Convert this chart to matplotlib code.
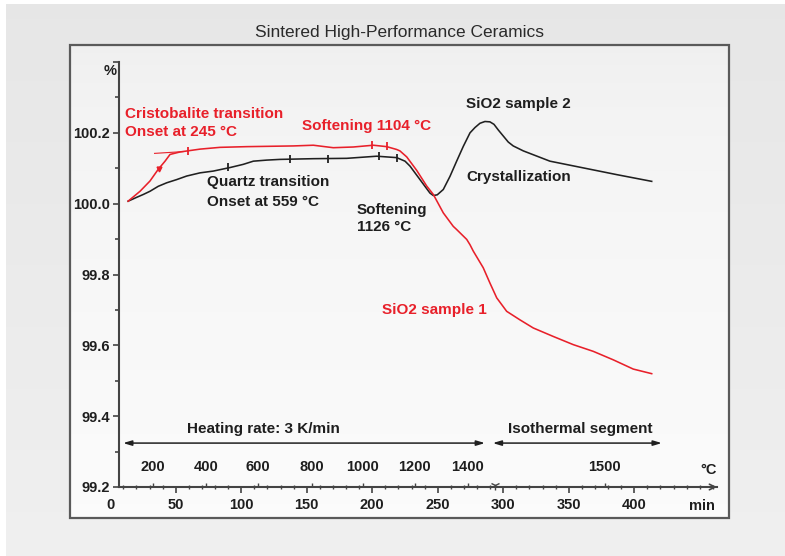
import numpy as np
import matplotlib
matplotlib.use("Agg")
import matplotlib.pyplot as plt
from matplotlib.patches import Rectangle
from matplotlib.ticker import MultipleLocator

plt.rcParams['font.family'] = ['Liberation Sans', 'DejaVu Sans']

# ---------------- data ----------------
# SiO2 sample 1 (red): time [min], mass [%]
s1_time = [13.6, 22.7, 30.3, 36.6, 41.8, 45.6, 53.2, 68.5, 83.7, 104.1, 139.7,
           155.0, 170.2, 185.5, 200.8, 211.0, 218.6, 221.1, 226.3, 233.9, 241.5,
           246.6, 254.2, 261.8, 264.4, 272.1, 274.6, 277.1, 284.7, 289.8, 295.0,
           302.6, 312.7, 322.9, 338.2, 353.4, 368.7, 384.0, 399.2, 413.3]
s1_mass = [100.007, 100.035, 100.064, 100.097, 100.120, 100.139, 100.146, 100.154,
           100.159, 100.161, 100.163, 100.165, 100.158, 100.160, 100.165, 100.161,
           100.153, 100.149, 100.132, 100.094, 100.050, 100.026, 99.974, 99.936,
           99.927, 99.899, 99.884, 99.866, 99.819, 99.776, 99.734, 99.696, 99.672,
           99.649, 99.625, 99.602, 99.583, 99.559, 99.533, 99.520]

# SiO2 sample 2 (black)
s2_time = [13.6, 20.2, 25.2, 30.3, 36.6, 43.1, 50.7, 58.3, 68.5, 78.6, 91.4,
           101.5, 109.2, 119.4, 129.5, 155.0, 180.5, 203.4, 218.6, 225.0, 228.8,
           232.6, 236.4, 240.2, 244.0, 246.6, 249.6, 254.2, 259.3, 264.4, 269.5,
           274.6, 278.4, 282.2, 286.0, 289.8, 292.9, 296.2, 300.0, 303.8, 307.6,
           315.3, 335.6, 361.1, 386.6, 413.3]
s2_mass = [100.007, 100.018, 100.026, 100.035, 100.049, 100.059, 100.068, 100.078,
           100.087, 100.092, 100.102, 100.111, 100.120, 100.123, 100.125, 100.127,
           100.128, 100.134, 100.130, 100.120, 100.106, 100.087, 100.068, 100.049,
           100.030, 100.023, 100.025, 100.040, 100.077, 100.120, 100.162, 100.200,
           100.215, 100.227, 100.232, 100.231, 100.224, 100.208, 100.191, 100.174,
           100.163, 100.149, 100.120, 100.101, 100.082, 100.063]

# evaluation flags on the curves
s1_flag_time = [59.0, 200.0, 211.0]
s1_flag_mass = [100.150, 100.166, 100.163]
s2_flag_time = [90.0, 137.0, 166.0, 205.0, 219.0]
s2_flag_mass = [100.103, 100.127, 100.127, 100.134, 100.130]

# axis ticks
y_ticks = [99.2, 99.4, 99.6, 99.8, 100.0, 100.2, 100.4]
y_labels = ['99.2', '99.4', '99.6', '99.8', '100.0', '100.2', '']
min_ticks = [0, 50, 100, 150, 200, 250, 300, 350, 400]
min_labels = ['0', '50', '100', '150', '200', '250', '300', '350', '400']
temp_tick_time = [32.7, 73.0, 112.7, 153.7, 192.9, 232.5, 273.0, 377.6]
temp_labels = ['200', '400', '600', '800', '1000', '1200', '1400', '1500']

RED = '#e8202a'
BLK = '#202020'
TXT = '#1e1e1e'

W, H = 785, 556
fig = plt.figure(figsize=(W / 100, H / 100), dpi=100)
fig.patch.set_facecolor('white')

# ---------------- background (slide look) ----------------
bg = fig.add_axes([0, 0, 1, 1], zorder=-10)
bg.axis('off')
g = np.linspace(0, 1, 256)[:, None]
outer = np.dstack([0.905 + 0.035 * g] * 3)
bg.imshow(outer, extent=(6, W, H, 4), aspect='auto', interpolation='bilinear')
inner = np.dstack([0.935 + 0.050 * np.sqrt(g)] * 3)
bg.imshow(inner, extent=(70, 729, 518, 45), aspect='auto', interpolation='bilinear')
bg.add_patch(Rectangle((70, 45), 659, 473, fill=False, edgecolor='#5a5a5a', lw=1.6))
bg.set_xlim(0, W)
bg.set_ylim(H, 0)

fig.text(399.5 / W, 1 - 32 / H, 'Sintered High-Performance Ceramics', ha='center',
         va='center', fontsize=12.5, color='#2a2a2a')

# ---------------- main axes ----------------
x0_px, x1_px = 110.3, 716.8
y0_px, y1_px = 487, 62
ax = fig.add_axes([x0_px / W, 1 - y0_px / H, (x1_px - x0_px) / W, (y0_px - y1_px) / H])
ax.patch.set_alpha(0)
ax.set_xlim(0, 463)
ax.set_ylim(99.2, 100.4)

for s in ['top', 'right']:
    ax.spines[s].set_visible(False)
for s in ['left', 'bottom']:
    ax.spines[s].set_color('#444444')
    ax.spines[s].set_linewidth(1.5)
ax.spines['left'].set_position(('data', 6.6))
ax.spines['bottom'].set_bounds(6.6, 463)

ax.set_yticks(y_ticks, y_labels)
ax.yaxis.set_minor_locator(MultipleLocator(0.1))
ax.set_xticks(min_ticks, min_labels)
ax.xaxis.set_minor_locator(MultipleLocator(10))
ax.tick_params(axis='both', which='major', colors='#444444', labelcolor=TXT,
               labelsize=10.5, width=1.2)
ax.tick_params(axis='y', which='major', length=4.5, pad=2)
ax.tick_params(axis='y', which='minor', length=3, width=1.2, colors='#444444')
ax.tick_params(axis='x', which='major', direction='out', length=4, pad=4)
ax.tick_params(axis='x', which='minor', direction='inout', length=3.5, width=1.0,
               colors='#444444')
for lab in ax.get_xticklabels() + ax.get_yticklabels():
    lab.set_fontweight('bold')
ax.xaxis.get_major_ticks()[0].tick1line.set_visible(False)

# temperature scale on the same axis line
sec = ax.secondary_xaxis(0.0)
sec.spines['bottom'].set_visible(False)
sec.set_xticks(temp_tick_time, temp_labels)
sec.tick_params(axis='x', direction='in', length=3, width=1.0, colors='#444444',
                labelcolor=TXT, labelsize=10.5, pad=-19.5)
for lab in sec.get_xticklabels():
    lab.set_fontweight('bold')

# axis arrow and unit labels
ax.annotate('', xy=(463, 99.2), xytext=(452, 99.2),
            arrowprops=dict(arrowstyle='->', color='#444444', lw=1.2,
                            shrinkA=0, shrinkB=0), annotation_clip=False)
ax.text(452, 99.2 - 0.034, 'min', ha='center', va='top',
        fontsize=10.5, fontweight='bold', color=TXT, clip_on=False)
ax.text(456.5, 99.2 + 0.048, '°C', ha='center', va='center', fontsize=10.5,
        fontweight='bold', color=TXT)
ax.text(0.0, 100.374, '%', ha='center', va='center', fontsize=10.5, fontweight='bold',
        color=TXT, clip_on=False)
ax.plot([293.6], [99.205], marker='1', ms=7, color='#444444', clip_on=False)

# ---------------- curves ----------------
ax.plot(s2_time, s2_mass, color=BLK, lw=1.15, solid_joinstyle='round')
ax.plot(s1_time, s1_mass, color=RED, lw=1.15, solid_joinstyle='round')
ax.plot([33.8, 55.6], [100.142, 100.147], color=RED, lw=0.8)
ax.plot(s1_flag_time, s1_flag_mass, ls='none', marker='|', ms=6, mew=1.3, color=RED)
ax.plot(s2_flag_time, s2_flag_mass, ls='none', marker='|', ms=6, mew=1.3, color=BLK)
ax.plot([37.3], [100.099], ls='none', marker='v', ms=3.5, color=RED)

# ---------------- annotations ----------------
kw = dict(fontsize=11, fontweight='bold', va='center', ha='left')
ax.text(11.3, 100.252, 'Cristobalite transition', color=RED, **kw)
ax.text(11.3, 100.201, 'Onset at 245 °C', color=RED, **kw)
ax.text(146.3, 100.218, 'Softening 1104 °C', color=RED, **kw)
ax.text(73.8, 100.060, 'Quartz transition', color=TXT, **kw)
ax.text(73.8, 100.006, 'Onset at 559 °C', color=TXT, **kw)
ax.text(188.3, 99.981, 'Softening', color=TXT, **kw)
ax.text(188.3, 99.933, '1126 °C', color=TXT, **kw)
ax.text(271.5, 100.281, 'SiO2 sample 2', color=TXT, **kw)
ax.text(271.5, 100.074, 'Crystallization', color=TXT, **kw)
ax.text(207.4, 99.701, 'SiO2 sample 1', color=RED, **kw)

arrow_level = 99.324
ax.annotate('', xy=(9.8, arrow_level), xytext=(286, arrow_level),
            arrowprops=dict(arrowstyle='<|-|>,head_length=0.5,head_width=0.15',
                            color=BLK, lw=1.1, shrinkA=0, shrinkB=0))
ax.annotate('', xy=(292, arrow_level), xytext=(421, arrow_level),
            arrowprops=dict(arrowstyle='<|-|>,head_length=0.5,head_width=0.15',
                            color=BLK, lw=1.1, shrinkA=0, shrinkB=0))
ax.text(117, 99.364, 'Heating rate: 3 K/min', ha='center', va='center', fontsize=11,
        fontweight='bold', color=TXT)
ax.text(358.5, 99.364, 'Isothermal segment', ha='center', va='center', fontsize=11,
        fontweight='bold', color=TXT)

fig.savefig('out.png', dpi=100, facecolor=fig.get_facecolor())
